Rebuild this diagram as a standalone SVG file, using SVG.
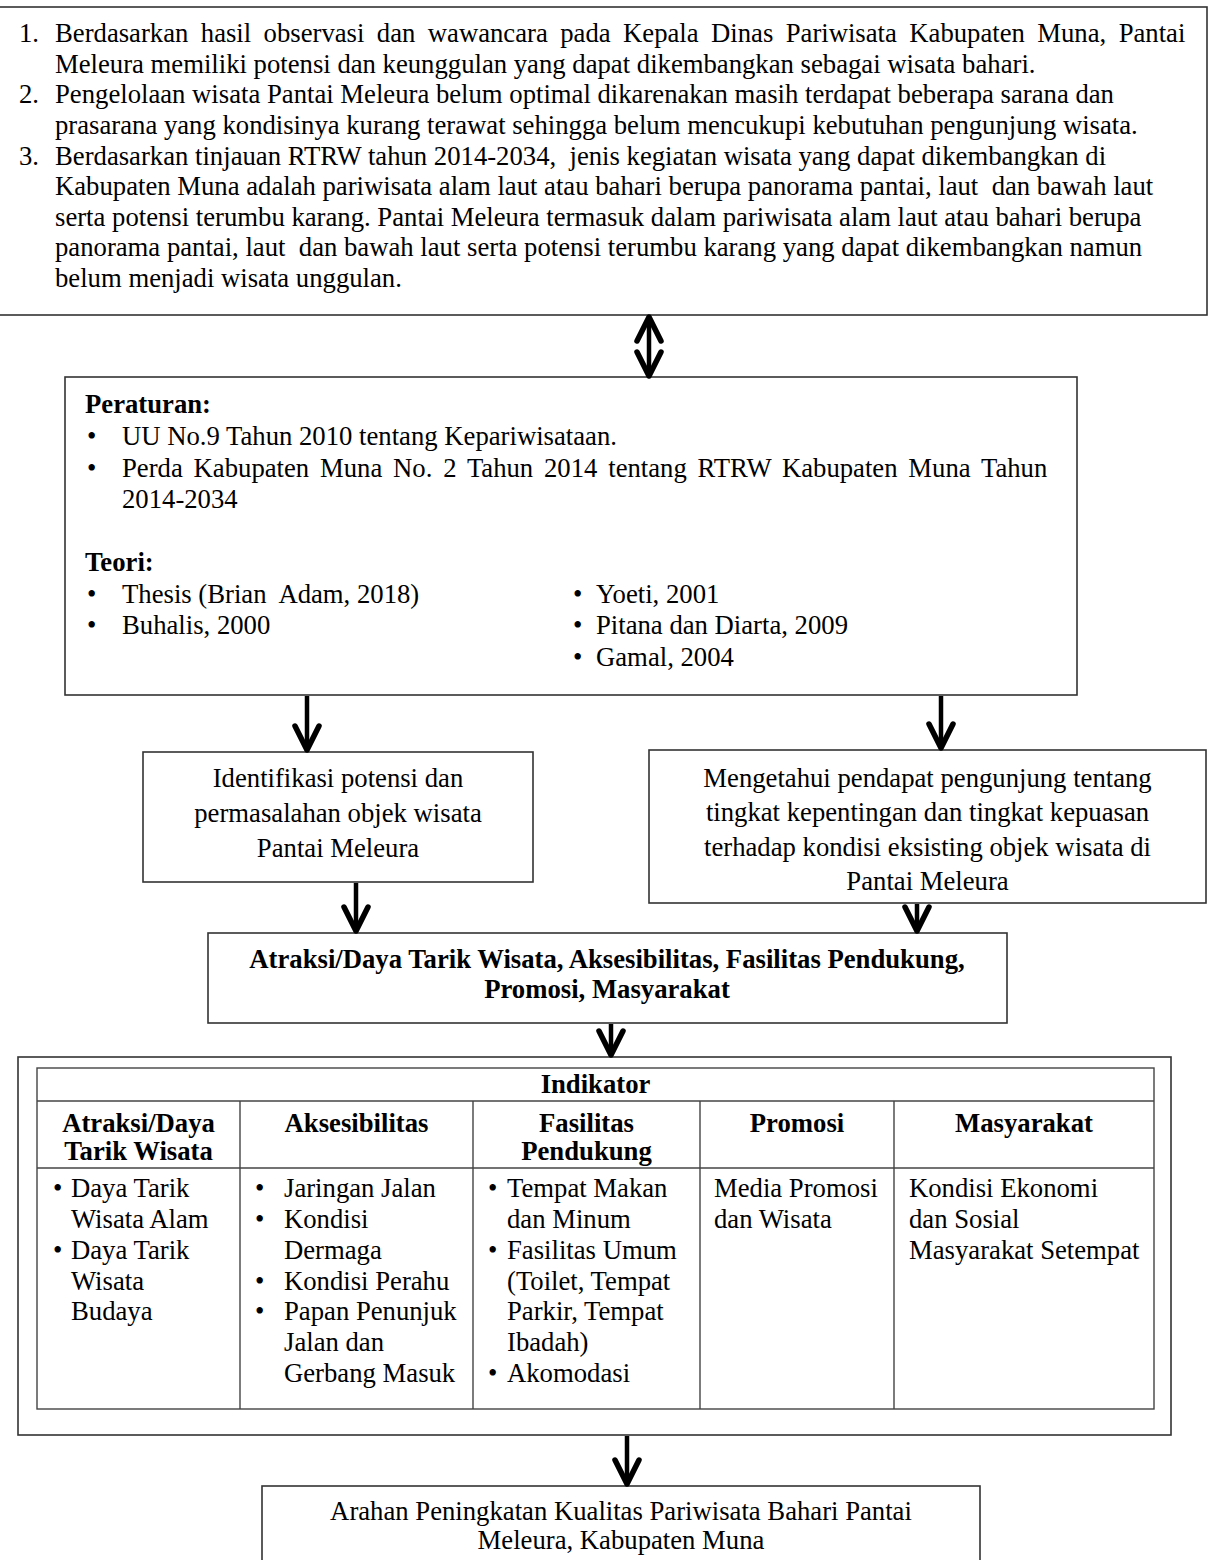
<svg xmlns="http://www.w3.org/2000/svg" width="1214" height="1560" viewBox="0 0 1214 1560">
<style>
.t{font-family:"Liberation Serif","Times New Roman",serif;font-size:26.7px;fill:#000;white-space:pre}
.b{font-weight:bold}
.c{text-anchor:middle}
.box{fill:#fff;stroke:#333;stroke-width:1.6}
.grid{fill:none;stroke:#444;stroke-width:1.4}
.conn{fill:none;stroke:#000;stroke-width:4.5;marker-end:url(#ah)}
</style>
<defs>
<marker id="ah" markerUnits="userSpaceOnUse" viewBox="-30 -16 34 32" markerWidth="34" markerHeight="32" refX="0" refY="0" orient="auto-start-reverse" overflow="visible">
<path d="M-24,-12 L0,0 L-24,12" fill="none" stroke="#000" stroke-width="5.5" stroke-linecap="round" stroke-linejoin="round"/>
</marker>
</defs>
<rect width="1214" height="1560" fill="#fff"/>

<g id="masalah">
<rect class="box" x="-2" y="7" width="1209" height="308"/>
<text class="t" x="19" y="42">1.</text>
<text class="t" x="55" y="42" word-spacing="5.75">Berdasarkan hasil observasi dan wawancara pada Kepala Dinas Pariwisata Kabupaten Muna, Pantai</text>
<text class="t" x="55" y="72.6">Meleura memiliki potensi dan keunggulan yang dapat dikembangkan sebagai wisata bahari.</text>
<text class="t" x="19" y="103.2">2.</text>
<text class="t" x="55" y="103.2">Pengelolaan wisata Pantai Meleura belum optimal dikarenakan masih terdapat beberapa sarana dan</text>
<text class="t" x="55" y="133.8">prasarana yang kondisinya kurang terawat sehingga belum mencukupi kebutuhan pengunjung wisata.</text>
<text class="t" x="19" y="164.5">3.</text>
<text class="t" x="55" y="164.5">Berdasarkan tinjauan RTRW tahun 2014-2034,  jenis kegiatan wisata yang dapat dikembangkan di</text>
<text class="t" x="55" y="195">Kabupaten Muna adalah pariwisata alam laut atau bahari berupa panorama pantai, laut  dan bawah laut</text>
<text class="t" x="55" y="225.7">serta potensi terumbu karang. Pantai Meleura termasuk dalam pariwisata alam laut atau bahari berupa</text>
<text class="t" x="55" y="256.3">panorama pantai, laut  dan bawah laut serta potensi terumbu karang yang dapat dikembangkan namun</text>
<text class="t" x="55" y="287">belum menjadi wisata unggulan.</text>
</g>

<g id="peraturan-teori">
<rect class="box" x="65" y="377" width="1012" height="318"/>
<text class="t b" x="85" y="413">Peraturan:</text>
<text class="t" x="87" y="445">•</text>
<text class="t" x="122" y="445">UU No.9 Tahun 2010 tentang Kepariwisataan.</text>
<text class="t" x="87" y="477">•</text>
<text class="t" x="122" y="477" word-spacing="4.15">Perda Kabupaten Muna No. 2 Tahun 2014 tentang RTRW Kabupaten Muna Tahun</text>
<text class="t" x="122" y="508">2014-2034</text>
<text class="t b" x="85" y="571">Teori:</text>
<text class="t" x="87" y="603">•</text>
<text class="t" x="122" y="603">Thesis (Brian  Adam, 2018)</text>
<text class="t" x="87" y="634">•</text>
<text class="t" x="122" y="634">Buhalis, 2000</text>
<text class="t" x="573" y="603">•</text>
<text class="t" x="596" y="603">Yoeti, 2001</text>
<text class="t" x="573" y="634">•</text>
<text class="t" x="596" y="634">Pitana dan Diarta, 2009</text>
<text class="t" x="573" y="666">•</text>
<text class="t" x="596" y="666">Gamal, 2004</text>
</g>

<g id="identifikasi">
<rect class="box" x="143" y="752" width="390" height="130"/>
<text class="t c" x="338" y="787">Identifikasi potensi dan</text>
<text class="t c" x="338" y="822">permasalahan objek wisata</text>
<text class="t c" x="338" y="857">Pantai Meleura</text>
</g>

<g id="pendapat">
<rect class="box" x="649" y="750" width="557" height="153"/>
<text class="t c" x="927.5" y="787">Mengetahui pendapat pengunjung tentang</text>
<text class="t c" x="927.5" y="821">tingkat kepentingan dan tingkat kepuasan</text>
<text class="t c" x="927.5" y="855.5">terhadap kondisi eksisting objek wisata di</text>
<text class="t c" x="927.5" y="890">Pantai Meleura</text>
</g>

<g id="aspek">
<rect class="box" x="208" y="933" width="799" height="90"/>
<text class="t b c" x="607" y="968">Atraksi/Daya Tarik Wisata, Aksesibilitas, Fasilitas Pendukung,</text>
<text class="t b c" x="607" y="998">Promosi, Masyarakat</text>
</g>

<g id="indikator">
<rect class="box" x="18" y="1057" width="1153" height="378"/>
<rect class="grid" x="37" y="1068" width="1117" height="341"/>
<line class="grid" x1="37" y1="1101" x2="1154" y2="1101"/>
<line class="grid" x1="37" y1="1168" x2="1154" y2="1168"/>
<line class="grid" x1="240" y1="1101" x2="240" y2="1409"/>
<line class="grid" x1="473" y1="1101" x2="473" y2="1409"/>
<line class="grid" x1="700" y1="1101" x2="700" y2="1409"/>
<line class="grid" x1="894" y1="1101" x2="894" y2="1409"/>
<text class="t b c" x="595.5" y="1093">Indikator</text>
<text class="t b c" x="138.5" y="1132">Atraksi/Daya</text>
<text class="t b c" x="138.5" y="1160">Tarik Wisata</text>
<text class="t b c" x="356.5" y="1132">Aksesibilitas</text>
<text class="t b c" x="586.5" y="1132">Fasilitas</text>
<text class="t b c" x="586.5" y="1160">Pendukung</text>
<text class="t b c" x="797" y="1132">Promosi</text>
<text class="t b c" x="1024" y="1132">Masyarakat</text>

<text class="t" x="53" y="1197">•</text>
<text class="t" x="71" y="1197">Daya Tarik</text>
<text class="t" x="71" y="1228">Wisata Alam</text>
<text class="t" x="53" y="1259">•</text>
<text class="t" x="71" y="1259">Daya Tarik</text>
<text class="t" x="71" y="1290">Wisata</text>
<text class="t" x="71" y="1320">Budaya</text>

<text class="t" x="255" y="1197">•</text>
<text class="t" x="284" y="1197">Jaringan Jalan</text>
<text class="t" x="255" y="1228">•</text>
<text class="t" x="284" y="1228">Kondisi</text>
<text class="t" x="284" y="1259">Dermaga</text>
<text class="t" x="255" y="1290">•</text>
<text class="t" x="284" y="1290">Kondisi Perahu</text>
<text class="t" x="255" y="1320">•</text>
<text class="t" x="284" y="1320">Papan Penunjuk</text>
<text class="t" x="284" y="1351">Jalan dan</text>
<text class="t" x="284" y="1382">Gerbang Masuk</text>

<text class="t" x="488" y="1197">•</text>
<text class="t" x="507" y="1197">Tempat Makan</text>
<text class="t" x="507" y="1228">dan Minum</text>
<text class="t" x="488" y="1259">•</text>
<text class="t" x="507" y="1259">Fasilitas Umum</text>
<text class="t" x="507" y="1290">(Toilet, Tempat</text>
<text class="t" x="507" y="1320">Parkir, Tempat</text>
<text class="t" x="507" y="1351">Ibadah)</text>
<text class="t" x="488" y="1382">•</text>
<text class="t" x="507" y="1382">Akomodasi</text>

<text class="t" x="714" y="1197">Media Promosi</text>
<text class="t" x="714" y="1228">dan Wisata</text>

<text class="t" x="909" y="1197">Kondisi Ekonomi</text>
<text class="t" x="909" y="1228">dan Sosial</text>
<text class="t" x="909" y="1259">Masyarakat Setempat</text>
</g>

<g id="arahan">
<rect class="box" x="262" y="1486" width="718" height="80"/>
<text class="t c" x="621" y="1520">Arahan Peningkatan Kualitas Pariwisata Bahari Pantai</text>
<text class="t c" x="621" y="1549">Meleura, Kabupaten Muna</text>
</g>

<g id="connectors">
<line class="conn" x1="649" y1="317" x2="649" y2="376" marker-start="url(#ah)"/>
<line class="conn" x1="307" y1="696" x2="307" y2="750"/>
<line class="conn" x1="941" y1="696" x2="941" y2="748"/>
<line class="conn" x1="356" y1="883" x2="356" y2="931"/>
<line class="conn" x1="917" y1="904" x2="917" y2="931"/>
<line class="conn" x1="611" y1="1024" x2="611" y2="1055"/>
<line class="conn" x1="627" y1="1436" x2="627" y2="1484"/>
</g>
</svg>
